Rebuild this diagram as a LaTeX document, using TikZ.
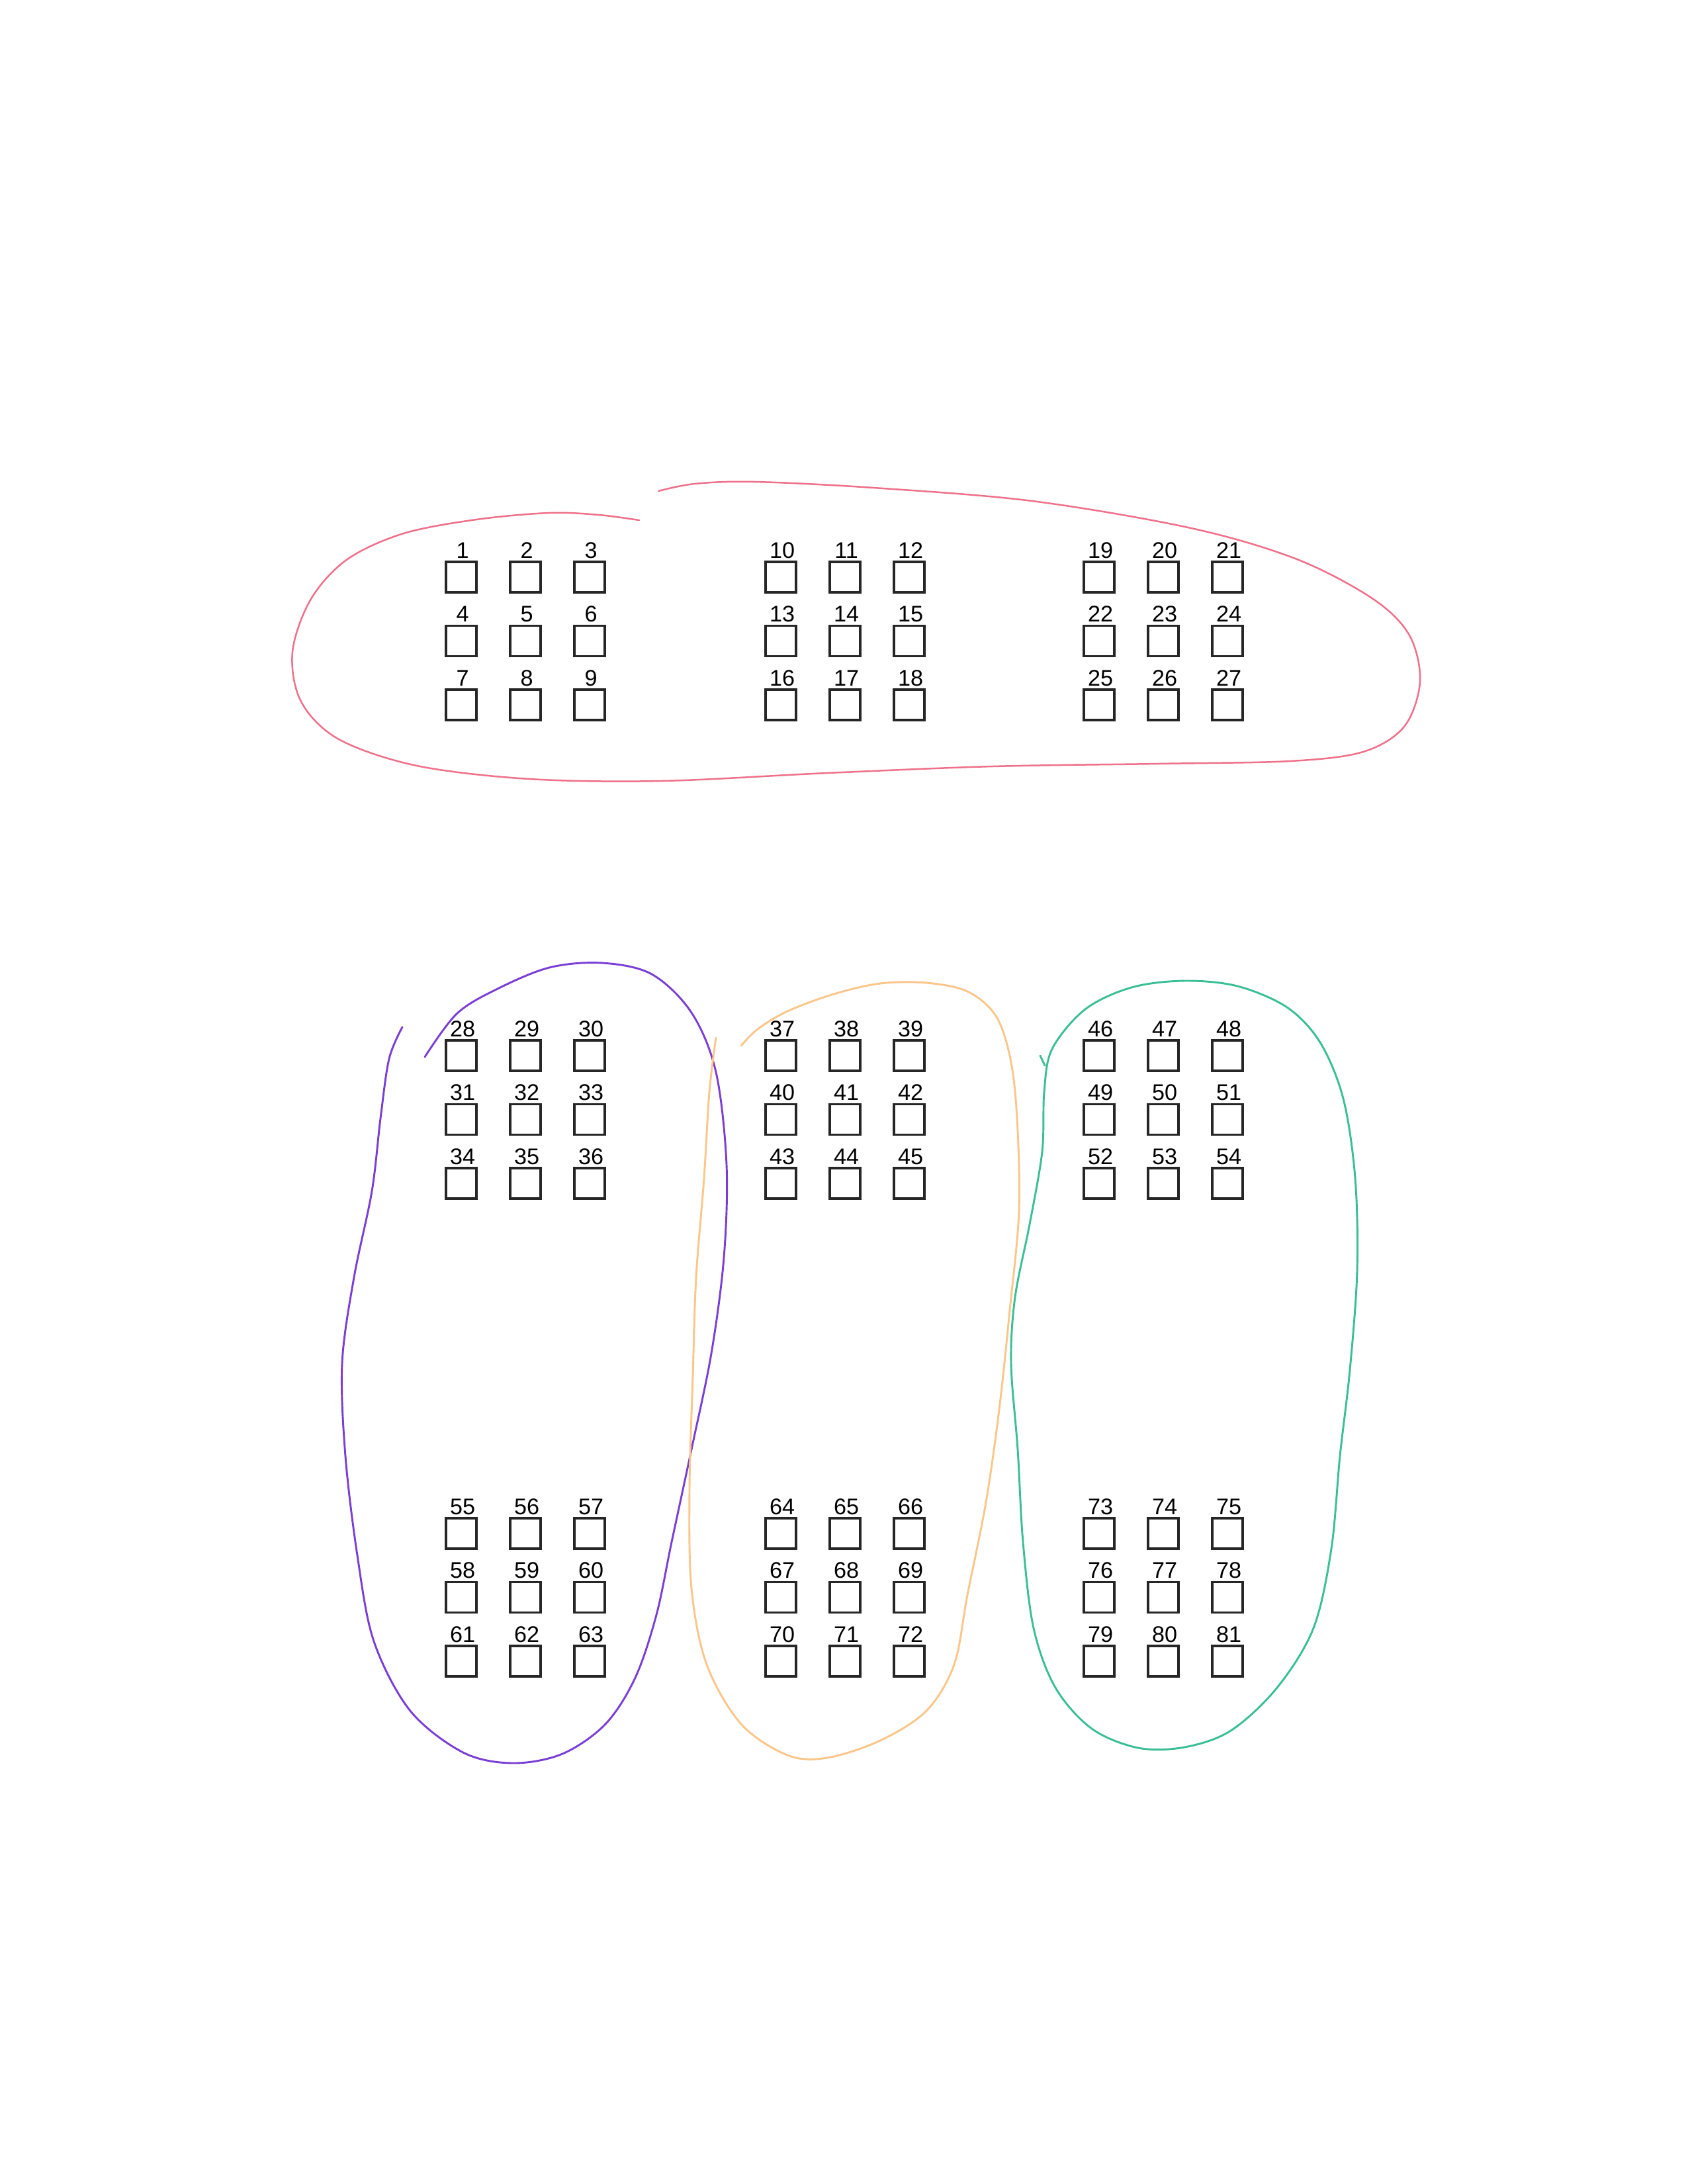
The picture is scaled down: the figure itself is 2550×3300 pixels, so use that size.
\documentclass[tikz,border=0pt]{standalone}
\usepackage{fontspec}
\setmainfont{Liberation Sans}
\definecolor{redline}{RGB}{238,112,138}
\definecolor{purpleline}{RGB}{122,62,212}
\definecolor{orangeline}{RGB}{250,198,138}
\definecolor{greenline}{RGB}{58,190,150}
\begin{document}
\begin{tikzpicture}[x=0.24pt,y=-0.24pt,
  cbox/.style={draw=black!85,line width=0.9pt,minimum size=11.04pt,inner sep=0pt,outer sep=0pt},
  clab/.style={anchor=base,inner sep=0pt,font=\fontsize{8.2}{9}\selectfont},
  loop/.style={line width=0.7pt,line cap=round,line join=round}]
\useasboundingbox[fill=white] (0,0) rectangle (2550,3300);

% boxes and numbers
\foreach \g/\gx in {0/697,1/1180,2/1661} {
  \foreach \by/\off in {872/0,1595/27,2317/54} {
    \foreach \r in {0,1,2} {
      \foreach \c in {0,1,2} {
        \pgfmathtruncatemacro{\n}{\off+\g*9+\r*3+\c+1}
        \pgfmathsetmacro{\xx}{\gx+\c*97}
        \pgfmathsetmacro{\yy}{\by+\r*96.5}
        \node[cbox] (b\n) at (\xx,\yy) {};
        \node[clab] (l\n) at (\xx+2,\yy-29) {\n};
      }
    }
  }
}

% red loop (top)
\draw[loop,redline,line width=0.6pt] plot[smooth,tension=0.55] coordinates {
 (966,786) (905,778) (830,775) (720,785) (610,806) (525,845) (470,905)
 (442,985) (455,1060) (512,1117) (630,1157) (800,1177) (1000,1180)
 (1250,1168) (1500,1158) (1750,1154) (1950,1150) (2060,1136) (2122,1098)
 (2146,1030) (2130,960) (2075,905) (1960,845) (1800,798) (1560,757)
 (1320,737) (1140,728) (1050,731) (995,742)};

% purple loop
\draw[loop,purpleline] plot[smooth,tension=0.55] coordinates {
 (608,1552) (588,1600) (575,1690) (562,1800) (535,1930) (517,2060) (522,2200)
 (540,2350) (565,2480) (620,2585) (700,2648) (775,2664) (850,2650) (915,2605)
 (960,2535) (992,2440) (1015,2330) (1045,2190) (1075,2045) (1094,1900)
 (1098,1760) (1082,1620) (1045,1530) (985,1472) (910,1455) (830,1462)
 (750,1495) (690,1532) (642,1597)};

% orange loop
\draw[loop,orangeline] plot[smooth,tension=0.55] coordinates {
 (1082,1568) (1072,1650) (1064,1780) (1052,1930) (1047,2080) (1042,2250)
 (1045,2400) (1068,2515) (1120,2605) (1190,2652) (1250,2656) (1330,2630)
 (1400,2585) (1442,2515) (1462,2410) (1490,2270) (1510,2130) (1526,1980)
 (1540,1830) (1537,1690) (1527,1600) (1505,1535) (1462,1498) (1400,1485)
 (1330,1486) (1260,1502) (1190,1528) (1145,1555) (1120,1580)};

% green loop
\draw[loop,greenline] plot[smooth cycle,tension=0.55] coordinates {
 (1590,1585) (1640,1525) (1710,1492) (1790,1482) (1870,1490) (1945,1522)
 (1995,1575) (2030,1660) (2048,1780) (2051,1920) (2040,2070) (2025,2200)
 (2012,2340) (1985,2460) (1930,2550) (1860,2615) (1790,2640) (1720,2641)
 (1650,2612) (1595,2550) (1562,2460) (1546,2330) (1538,2190) (1528,2060)
 (1534,1960) (1556,1850) (1575,1740) (1578,1650)};
\draw[loop,greenline] (1572,1595) -- (1579,1610);
\end{tikzpicture}
\end{document}
